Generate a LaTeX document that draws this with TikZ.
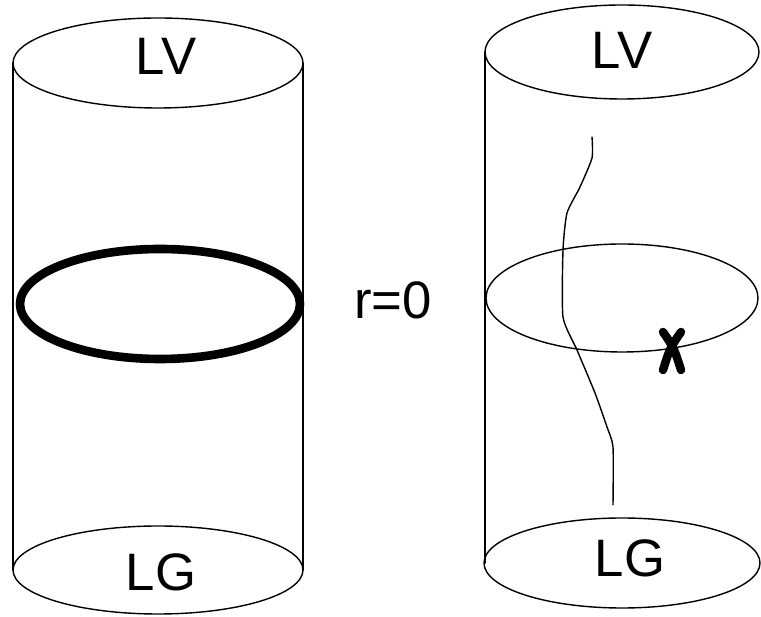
\documentclass[tikz,border=0pt]{standalone}
\usepackage{fontspec}
\setmainfont{Liberation Sans}
\begin{document}
\begin{tikzpicture}[x=0.02cm, y=-0.02cm, line cap=round, line join=round,
    rim/.style={line width=0.8pt},
    tag/.style={font=\fontsize{30}{36}\selectfont, inner sep=0pt}]
  \useasboundingbox (0,0) rectangle (761,617);
  % left cylinder
  \coordinate (LT) at (158,63);
  \coordinate (LB) at (158,570);
  \draw[rim] (LT) ellipse [x radius=145, y radius=45];
  \draw[rim] (LB) ellipse [x radius=145, y radius=44];
  \draw[rim] (13,63) -- (13,570);
  \draw[rim] (303,63) -- (303,570);
  \draw[line width=4.9pt] (160,304) ellipse [x radius=140, y radius=55];
  % right cylinder
  \coordinate (RT) at (622,52);
  \coordinate (RM) at (622,298);
  \coordinate (RB) at (622,563);
  \draw[rim] (RT) ellipse [x radius=137, y radius=47];
  \draw[rim] (RM) ellipse [x radius=136, y radius=54];
  \draw[rim] (RB) ellipse [x radius=138, y radius=45];
  \draw[rim] (485,52) -- (485,563);
  \draw[rim] plot[smooth, tension=0.35] coordinates {(592,137) (592,158) (580,187)
    (567,213) (563,250) (563,317) (577,350) (595,393) (607,427) (613,447) (613,505)};
  % the cross on the ring
  \draw[line width=4.8pt] (663,332) .. controls (674,348) .. (681,370);
  \draw[line width=4.8pt] (681,332) .. controls (670,348) .. (663,370);
  % labels
  \node[tag] (lv1) at (166,56) {LV};
  \node[tag] (lg1) at (161,572) {LG};
  \node[tag] (lv2) at (622,50) {LV};
  \node[tag] (lg2) at (630,558) {LG};
  \node[tag] (r0) at (393,300) {r=0};
\end{tikzpicture}
\end{document}
